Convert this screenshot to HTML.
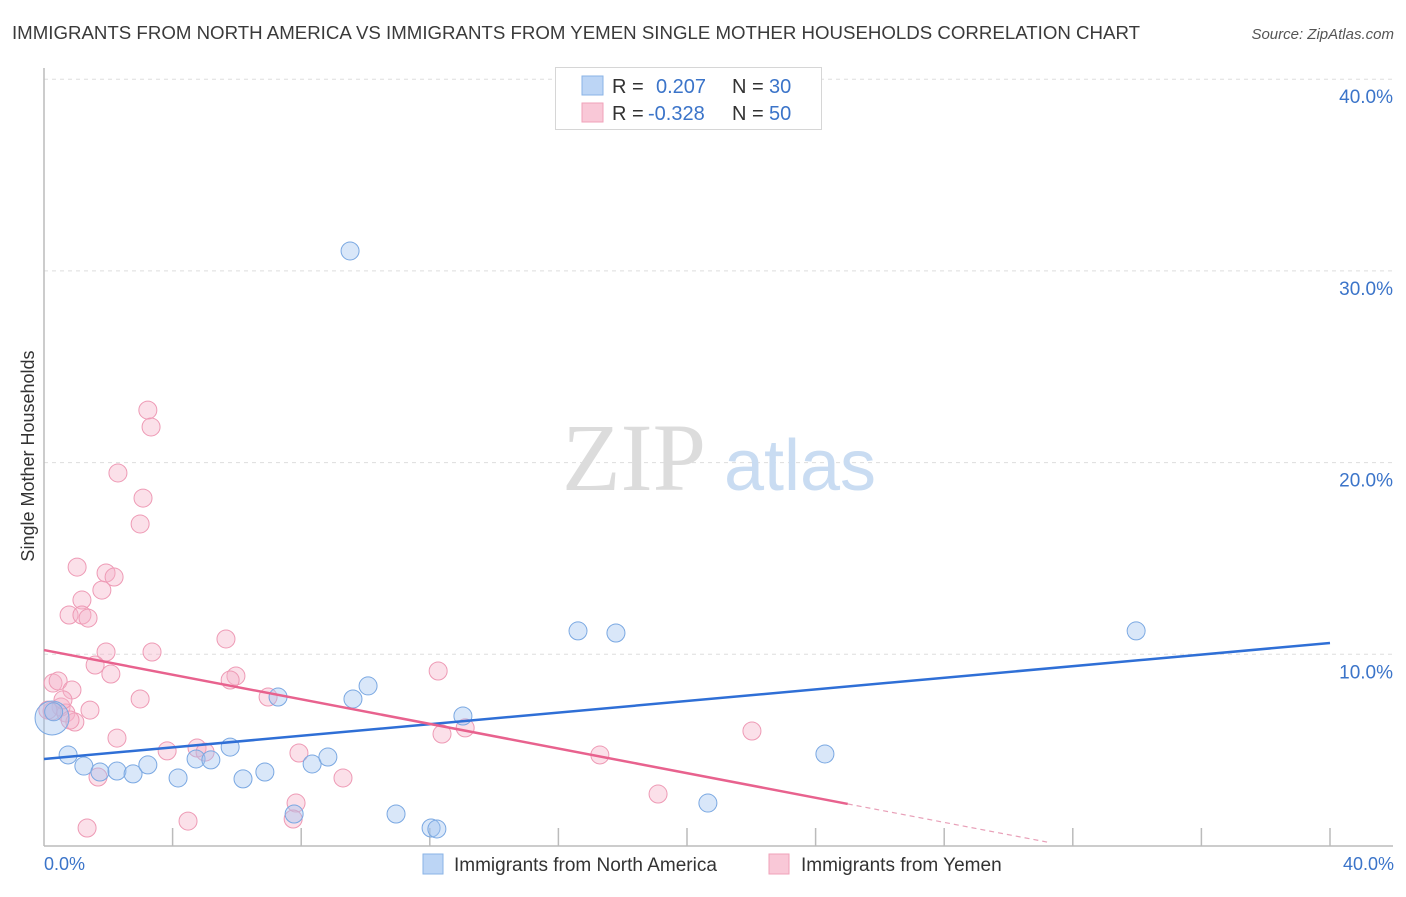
<!DOCTYPE html>
<html><head><meta charset="utf-8"><style>
body{margin:0;background:#fff;font-family:"Liberation Sans",sans-serif;}
svg text{font-family:"Liberation Sans",sans-serif;}
</style></head><body>
<svg id="chart" width="1406" height="892" xmlns="http://www.w3.org/2000/svg">
<text x="12" y="39" font-size="18" fill="#3a3a3a" textLength="1128" lengthAdjust="spacingAndGlyphs">IMMIGRANTS FROM NORTH AMERICA VS IMMIGRANTS FROM YEMEN SINGLE MOTHER HOUSEHOLDS CORRELATION CHART</text>
<text x="1394" y="39" font-size="15" fill="#555" text-anchor="end" font-style="italic">Source: ZipAtlas.com</text>
<g id="grid"></g>
<g>
<text x="634" y="490" font-size="96" fill="#dcdcdc" text-anchor="middle" style="font-family:'Liberation Serif',serif">ZIP</text>
<text x="800" y="490" font-size="72" fill="#c9dcf2" text-anchor="middle">atlas</text>
</g>
<line x1="44" y1="68" x2="44" y2="846" stroke="#bbb" stroke-width="1.5"/>
<line x1="44" y1="846" x2="1393" y2="846" stroke="#bbb" stroke-width="1.5"/>
<g id="ticks"></g>
<g id="pts"></g>
<g id="lines"></g>
<text transform="translate(34,456) rotate(-90)" font-size="18" fill="#333" text-anchor="middle">Single Mother Households</text>
<text x="44" y="870" font-size="18" fill="#3b74c9">0.0%</text>
<text x="1394" y="870" font-size="18" fill="#3b74c9" text-anchor="end">40.0%</text>
<g>
<rect x="555.5" y="67.5" width="266" height="62" fill="#fff" stroke="#d6d6d6"/>
<rect x="582" y="76" width="21" height="19" fill="#bcd5f5" stroke="#8ab3e6"/>
<rect x="582" y="103" width="21" height="19" fill="#f9c8d7" stroke="#f0a2ba"/>
<text x="612" y="93" font-size="20" fill="#333">R =</text><text x="656" y="93" font-size="20" fill="#3b74c9">0.207</text>
<text x="732" y="93" font-size="20" fill="#333">N =</text><text x="769" y="93" font-size="20" fill="#3b74c9">30</text>
<text x="612" y="120" font-size="20" fill="#333">R =</text><text x="648" y="120" font-size="20" fill="#3b74c9">-0.328</text>
<text x="732" y="120" font-size="20" fill="#333">N =</text><text x="769" y="120" font-size="20" fill="#3b74c9">50</text>
</g>
<g>
<rect x="423" y="854" width="20" height="20" fill="#bcd5f5" stroke="#8ab3e6"/>
<text x="454" y="871" font-size="19" fill="#333">Immigrants from North America</text></g>
<g>
<rect x="769" y="854" width="20" height="20" fill="#f9c8d7" stroke="#f0a2ba"/>
<text x="801" y="871" font-size="19" fill="#333">Immigrants from Yemen</text></g>
</svg>
<script>
const yTicks=[10,20,30,40];
const yTickLabels=["10.0%","20.0%","30.0%","40.0%"];
const xTicks=[4,8,12,16,20,24,28,32,36,40];
const blueX=[0.25,0.75,1.24,1.74,2.27,2.77,3.23,4.17,4.73,5.19,5.79,6.19,6.87,7.28,7.78,8.34,8.83,9.52,9.61,10.08,10.95,12.04,12.22,13.03,16.61,17.79,20.65,24.29,33.97,0.3];
const blueY=[6.68,4.75,4.17,3.86,3.91,3.76,4.23,3.55,4.54,4.49,5.16,3.5,3.86,7.77,1.67,4.28,4.64,31.04,7.67,8.35,1.67,0.94,0.89,6.78,11.22,11.11,2.24,4.8,11.22,7.0];
const pinkX=[3.23,3.33,2.3,3.08,2.99,1.03,1.93,2.18,1.8,1.18,0.78,1.18,1.37,1.93,3.36,5.66,1.59,2.08,5.97,0.28,0.44,0.87,2.99,6.97,1.43,0.53,0.25,0.68,0.96,12.26,2.27,3.83,4.76,5.01,7.93,12.38,13.1,17.29,22.02,1.68,9.3,7.84,7.75,4.48,1.34,19.1,0.12,0.81,0.59,5.79];
const pinkY=[22.74,21.86,19.46,18.15,16.8,14.55,14.24,14.03,13.35,12.83,12.05,12.05,11.89,10.12,10.12,10.8,9.44,8.97,8.87,8.5,8.61,8.14,7.67,7.77,7.09,7.25,7.04,6.94,6.47,9.13,5.63,4.96,5.11,4.9,4.85,5.84,6.16,4.75,6.0,3.6,3.55,2.24,1.41,1.3,0.94,2.71,7.09,6.57,7.62,8.66];
const blueTrend=[4.54,10.59];
const pinkTrend=[10.22,-0.321];
const pinkSolidEnd=25;
const pinkDashEnd=31.2;
const NS="http://www.w3.org/2000/svg";
const sx=v=>44+v*32.15, sy=v=>846-v*19.17;
function mk(t,a,p){const e=document.createElementNS(NS,t);for(const k in a)e.setAttribute(k,a[k]);document.getElementById(p).appendChild(e);return e;}
yTicks.forEach((v,i)=>{
 const l=mk('line',{x1:44,x2:1393,y1:sy(v),y2:sy(v),stroke:'#ddd','stroke-dasharray':'4,4'},'grid');
 
 
 const t=mk('text',{x:1393,y:sy(v)+24,'font-size':19,fill:'#3b74c9','text-anchor':'end'},'grid');
 t.textContent=yTickLabels[i];
 
 
});
xTicks.forEach(v=>{
 const l=mk('line',{x1:sx(v),x2:sx(v),y1:828,y2:846,stroke:'#bbb','stroke-width':1.5},'ticks');
 
 
});
pinkX.forEach((x,i)=>{
 const c=mk('circle',{cx:sx(x),cy:sy(pinkY[i]),r:9,fill:'rgba(246,178,200,0.4)',stroke:'#ee9ab5','stroke-width':1},'pts');
 
 
});
blueX.forEach((x,i)=>{
 const c=mk('circle',{cx:sx(x),cy:sy(blueY[i]),r:i===0?17:9,fill:'rgba(160,195,240,0.4)',stroke:'#7aa8e2','stroke-width':1},'pts');
 
 
});
const bl=mk('line',{x1:sx(0),y1:sy(blueTrend[0]),x2:sx(40),y2:sy(blueTrend[1]),stroke:'#2f6fd6','stroke-width':2.5},'lines');


const pf=x=>pinkTrend[0]+pinkTrend[1]*x;
const pl=mk('line',{x1:sx(0),y1:sy(pf(0)),x2:sx(pinkSolidEnd),y2:sy(pf(pinkSolidEnd)),stroke:'#e8628e','stroke-width':2.5},'lines');


const pd=mk('line',{x1:sx(pinkSolidEnd),y1:sy(pf(pinkSolidEnd)),x2:sx(pinkDashEnd),y2:sy(Math.max(0,pf(pinkDashEnd))),stroke:'#e8a0b8','stroke-width':1.2,'stroke-dasharray':'5,4'},'lines');


</script>
</body></html>
